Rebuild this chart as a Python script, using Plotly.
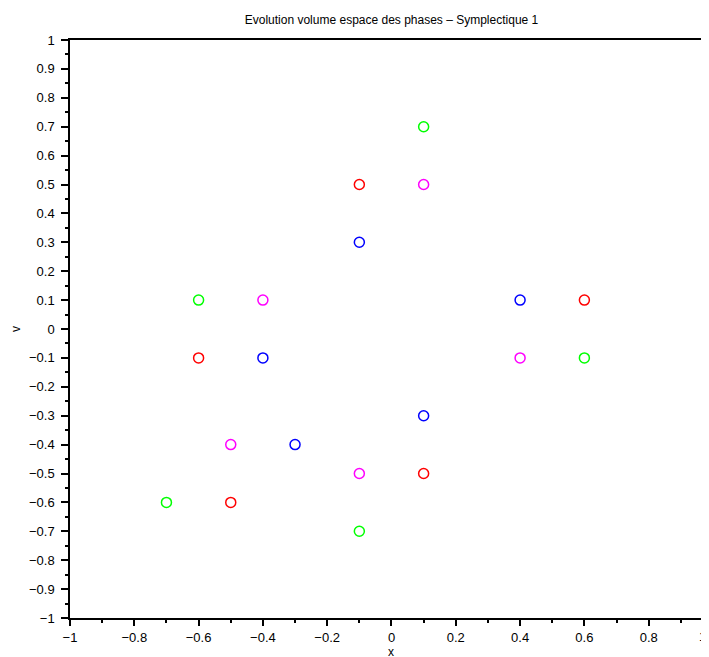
import plotly.graph_objects as go

green_x = [0.1, -0.6, 0.6, -0.7, -0.1]
green_y = [0.7, 0.1, -0.1, -0.6, -0.7]
red_x = [-0.1, 0.6, -0.6, 0.1, -0.5]
red_y = [0.5, 0.1, -0.1, -0.5, -0.6]
magenta_x = [0.1, -0.4, 0.4, -0.5, -0.1]
magenta_y = [0.5, 0.1, -0.1, -0.4, -0.5]
blue_x = [-0.1, 0.4, -0.4, 0.1, -0.3]
blue_y = [0.3, 0.1, -0.1, -0.3, -0.4]

x_ticks = [-1, -0.8, -0.6, -0.4, -0.2, 0, 0.2, 0.4, 0.6, 0.8]
x_labels = ["\u22121", "\u22120.8", "\u22120.6", "\u22120.4", "\u22120.2", "0", "0.2", "0.4", "0.6", "0.8"]
y_ticks = [1, 0.9, 0.8, 0.7, 0.6, 0.5, 0.4, 0.3, 0.2, 0.1, 0, -0.1, -0.2, -0.3, -0.4, -0.5, -0.6, -0.7, -0.8, -0.9, -1]
y_labels = ["1", "0.9", "0.8", "0.7", "0.6", "0.5", "0.4", "0.3", "0.2", "0.1", "0",
            "\u22120.1", "\u22120.2", "\u22120.3", "\u22120.4", "\u22120.5", "\u22120.6", "\u22120.7", "\u22120.8", "\u22120.9", "\u22121"]

X_MIN, X_MAX_SHOWN = -1, 0.9876

fig = go.Figure()
for xs, ys, col in [(green_x, green_y, "#00ff00"), (red_x, red_y, "#ff0000"),
                    (magenta_x, magenta_y, "#ff00ff"), (blue_x, blue_y, "#0000ff")]:
    fig.add_trace(go.Scatter(x=xs, y=ys, mode="markers",
                             marker=dict(symbol="circle-open", size=10, color=col,
                                         line=dict(width=1.5, color=col)),
                             showlegend=False, cliponaxis=False))

FAM = "Liberation Sans, Arial, sans-serif"
font = dict(family=FAM, size=12, color="#000")
tfont = dict(family=FAM, size=13, color="#000")

def xpaper(v):
    return (v - X_MIN) / (X_MAX_SHOWN - X_MIN)

fig.update_layout(
    width=701, height=649,
    margin=dict(l=62, r=0, t=32, b=39, autoexpand=False),
    paper_bgcolor="white", plot_bgcolor="white",
    font=font,
    title=dict(text="Evolution volume espace des phases \u2013 Symplectique 1",
               x=xpaper(0), xref="paper", xanchor="center",
               y=1 - 12 / 649, yref="container", yanchor="middle",
               font=dict(family=FAM, size=12, color="#000")),
    xaxis=dict(range=[X_MIN, X_MAX_SHOWN], tickvals=x_ticks, ticktext=x_labels,
               showgrid=False, zeroline=False, showline=True, linewidth=1.5,
               linecolor="#000", mirror=True, ticks="outside", ticklen=6,
               tickwidth=1.5, tickcolor="#000", automargin=False, tickfont=tfont,
               minor=dict(tickvals=[-0.9, -0.7, -0.5, -0.3, -0.1, 0.1, 0.3, 0.5, 0.7, 0.9],
                          ticks="outside", ticklen=3, tickwidth=1.5, tickcolor="#000"),
               ticklabelstandoff=1),
    yaxis=dict(range=[-1, 1], tickvals=y_ticks, ticktext=y_labels,
               showgrid=False, zeroline=False, showline=True, linewidth=1.5,
               linecolor="#000", ticks="outside", ticklen=7, tickwidth=1.5,
               tickcolor="#000", automargin=False, tickfont=tfont,
               minor=dict(dtick=0.05, tick0=0.05, ticks="outside", ticklen=3,
                          tickwidth=1.5, tickcolor="#000"),
               ticklabelstandoff=4),
)
# tick label "1" at the right end (plot extends past the window edge)
fig.add_annotation(x=xpaper(1), y=0, xref="paper", yref="paper", text="1",
                   showarrow=False, yanchor="middle", yshift=-18, xshift=-5,
                   font=tfont)
# axis titles
fig.add_annotation(x=xpaper(0), y=0, xref="paper", yref="paper", text="x",
                   showarrow=False, yanchor="middle", yshift=-34, font=font)
fig.add_annotation(x=0, y=0.5, xref="paper", yref="paper", text="v",
                   showarrow=False, xanchor="center", xshift=-54, textangle=-90,
                   font=font)
fig.write_html("out.html")
